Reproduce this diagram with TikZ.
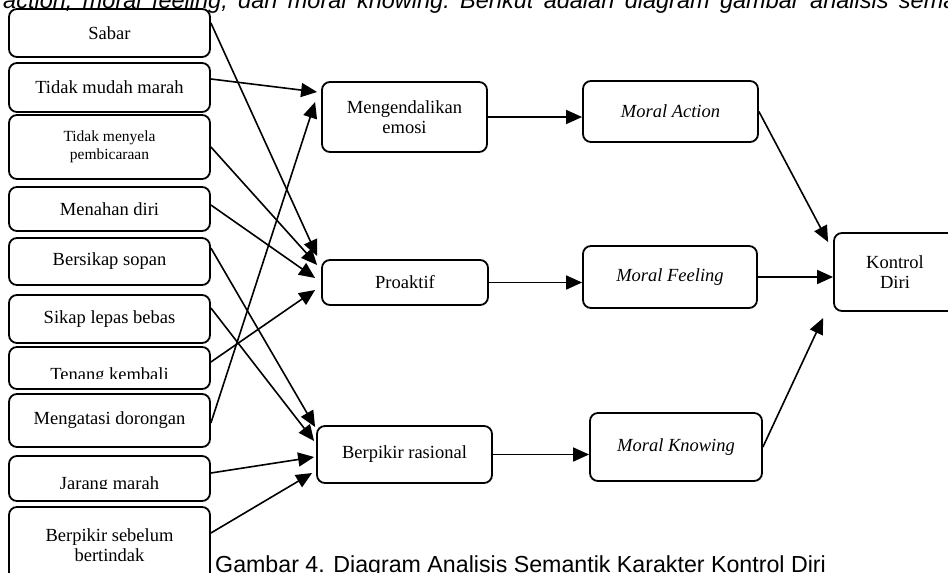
\documentclass[tikz,border=0pt]{standalone}
\usepackage{fontspec}
\setmainfont{Liberation Serif}
\newfontfamily\capfont{Liberation Sans}
\usetikzlibrary{arrows.meta, positioning}

\begin{document}
\begin{tikzpicture}[x=1pt, y=-1pt,
      b/.style={draw, line width=1.8pt, rounded corners=8pt, inner sep=0pt, align=center,
        font=\fontsize{18.5}{20}\selectfont},
      a/.style={line width=1.6pt, -{Triangle[length=16pt, width=14pt]}}]
    \clip (0,0) rectangle (948,573);
    % paragraph line cut at the top
    \node[anchor=base west, inner sep=0pt, font=\capfont\itshape\fontsize{23.5}{24}\selectfont]
      (para) at (3,8) {\frenchspacing\makebox[990pt][s]{action, moral feeling, dan moral knowing. Berikut adalah diagram gambar analisis semantik}};
    % left column
    \foreach \y/\h/\f/\s/\t [count=\i from 1] in {33/48/18.5/20/Sabar, 87.5/49/18.5/20/Tidak mudah marah,
        147/64/15.5/18/{Tidak menyela\\pembicaraan}, 209/44/18.5/20/Menahan diri,
        261.5/47/18.5/20/Bersikap sopan, 319/48/18.5/20/Sikap lepas bebas, 368/42/18.5/20/{},
        420.5/53/18.5/20/Mengatasi dorongan, 478.5/45/18.5/20/{}, 545/76/18.5/20/{Berpikir sebelum\\bertindak}}
      \node[b, minimum width=201pt, minimum height=\h pt, font=\fontsize{\f}{\s}\selectfont] (l\i) at (109.5,\y) {\t};
    % labels cut by the box
    \begin{scope}
      \clip (l7.north west) rectangle ([yshift=11pt]l7.south east);
      \node[anchor=base, font=\fontsize{18.5}{20}\selectfont] (l7t) at (109.5,380) {Tenang kembali};
    \end{scope}
    \begin{scope}
      \clip (l9.north west) rectangle ([yshift=13pt]l9.south east);
      \node[anchor=base, font=\fontsize{18.5}{20}\selectfont] (l9t) at (109.5,489) {Jarang marah};
    \end{scope}
    % middle and right
    \node[b, minimum width=165pt, minimum height=70pt] (me) at (404.5,117) {Mengendalikan\\emosi};
    \node[b, minimum width=166pt, minimum height=45pt] (pro) at (405,282.5) {Proaktif};
    \node[b, minimum width=175pt, minimum height=57pt] (br) at (404.5,454.5) {Berpikir rasional};
    \node[b, minimum width=175pt, minimum height=61pt] (ma) at (670.5,111.5) {\textit{Moral Action}};
    \node[b, minimum width=174pt, minimum height=62pt] (mf) at (670,277) {\textit{Moral Feeling}};
    \node[b, minimum width=172pt, minimum height=68pt] (mk) at (676,447) {\textit{Moral Knowing}};
    \node[b, minimum width=122pt, minimum height=78pt] (kd) at (895,272) {Kontrol\\Diri};
    % arrows from the left column
    \draw[a] ([yshift=10pt]l1.east) -- ([xshift=-4pt,yshift=26.5pt]pro.west);
    \draw[a] ([yshift=8.5pt]l2.east) -- ([xshift=-4pt,yshift=25pt]me.west);
    \draw[a] (l3.east) -- ([xshift=-4pt,yshift=17.5pt]pro.west);
    \draw[a] ([yshift=4pt]l4.east) -- ([xshift=-6pt,yshift=4.5pt]pro.west);
    \draw[a] ([yshift=13.5pt]l5.east) -- ([xshift=-1pt,yshift=27.5pt]br.west);
    \draw[a] ([yshift=11pt]l6.east) -- ([xshift=-2pt,yshift=13.5pt]br.west);
    \draw[a] ([yshift=6pt]l7.east) -- ([xshift=-6pt,yshift=-7.5pt]pro.west);
    \draw[a] ([yshift=-2.5pt]l8.east) -- ([xshift=-6pt,yshift=15pt]me.west);
    \draw[a] ([yshift=5.5pt]l9.east) -- ([xshift=-2pt,yshift=-2.5pt]br.west);
    \draw[a] ([yshift=12pt]l10.east) -- ([xshift=-4pt,yshift=-18.5pt]br.west);
    % arrows to the right
    \draw[a] (me.east) -- (me.east -| ma.west);
    \draw[a] (pro.east) -- (pro.east -| mf.west);
    \draw[a] (br.east) -- (br.east -| mk.west);
    \draw[a] (ma.east) -- ([xshift=-5pt,yshift=30pt]kd.west);
    \draw[a] (mf.east) -- (mf.east -| kd.west);
    \draw[a] (mk.east) -- ([xshift=-10pt,yshift=-46pt]kd.west);
    % caption
    \node[anchor=base west, inner sep=0pt, font=\capfont\fontsize{23.2}{26}\selectfont]
      (cap) at (215,572) {Gambar 4. Diagram Analisis Semantik Karakter Kontrol Diri};
\end{tikzpicture}
\end{document}
